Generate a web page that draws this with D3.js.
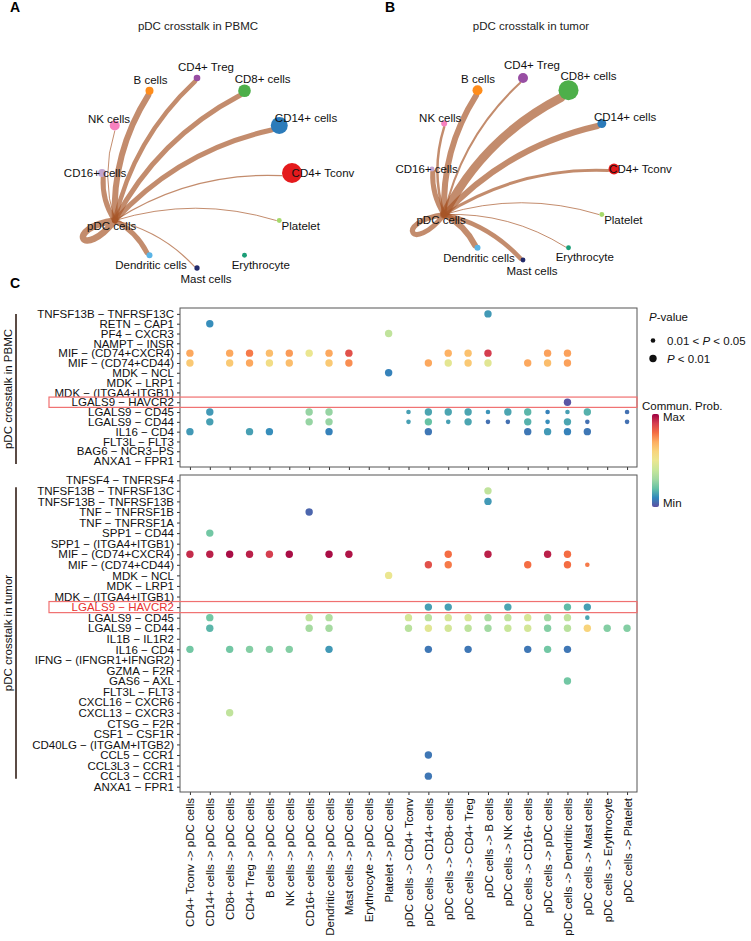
<!DOCTYPE html>
<html><head><meta charset="utf-8">
<script src="https://cdn.jsdelivr.net/npm/d3@7"></script>
<style>body{margin:0;background:#fff}svg{font-family:"Liberation Sans",Arial,sans-serif}</style>
</head><body><svg id="c" width="751" height="941"></svg>
<script>
// ---------------- DATA ----------------
const netNodes = ["CD4+ Tconv","Platelet","Erythrocyte","Mast cells","Dendritic cells","pDC cells","CD16+ cells","NK cells","B cells","CD4+ Treg","CD8+ cells","CD14+ cells"];
const netColors = ["#e41a1c","#a6d96a","#1b9e77","#222a6b","#5ab4e6","#a65628","#c2a5cf","#f781bf","#ff8c1a","#984ea3","#4daf4a","#2b7bba"];
const nodeSizePBMC  = [100,6,6,7,9,4,16,25,16,11,40,72];
const nodeSizeTumor = [30,6,6,6,9,4,6,9,25,25,100,20];
const edgeWidthPBMC  = [1.2,1,0,1.2,5,6.5,5,1,6,4.5,5,5];
const edgeWidthTumor = [3,1,1,4.5,6,5,5,2.5,6,2,8.5,6];

const columns = ["CD4+ Tconv -> pDC cells","CD14+ cells -> pDC cells","CD8+ cells -> pDC cells","CD4+ Treg -> pDC cells","B cells -> pDC cells","NK cells -> pDC cells","CD16+ cells -> pDC cells","Dendritic cells -> pDC cells","Mast cells -> pDC cells","Erythrocyte -> pDC cells","Platelet -> pDC cells","pDC cells -> CD4+ Tconv","pDC cells -> CD14+ cells","pDC cells -> CD8+ cells","pDC cells -> CD4+ Treg","pDC cells -> B cells","pDC cells -> NK cells","pDC cells -> CD16+ cells","pDC cells -> pDC cells","pDC cells -> Dendritic cells","pDC cells -> Mast cells","pDC cells -> Erythrocyte","pDC cells -> Platelet"];

const pairsPBMC = ["TNFSF13B − TNFRSF13C","RETN − CAP1","PF4 − CXCR3","NAMPT − INSR","MIF − (CD74+CXCR4)","MIF − (CD74+CD44)","MDK − NCL","MDK − LRP1","MDK − (ITGA4+ITGB1)","LGALS9 − HAVCR2","LGALS9 − CD45","LGALS9 − CD44","IL16 − CD4","FLT3L − FLT3","BAG6 − NCR3−PS","ANXA1 − FPR1"];
const pairsTumor = ["TNFSF4 − TNFRSF4","TNFSF13B − TNFRSF13C","TNFSF13B − TNFRSF13B","TNF − TNFRSF1B","TNF − TNFRSF1A","SPP1 − CD44","SPP1 − (ITGA4+ITGB1)","MIF − (CD74+CXCR4)","MIF − (CD74+CD44)","MDK − NCL","MDK − LRP1","MDK − (ITGA4+ITGB1)","LGALS9 − HAVCR2","LGALS9 − CD45","LGALS9 − CD44","IL1B − IL1R2","IL16 − CD4","IFNG − (IFNGR1+IFNGR2)","GZMA − F2R","GAS6 − AXL","FLT3L − FLT3","CXCL16 − CXCR6","CXCL13 − CXCR3","CTSG − F2R","CSF1 − CSF1R","CD40LG − (ITGAM+ITGB2)","CCL5 − CCR1","CCL3L3 − CCR1","CCL3 − CCR1","ANXA1 − FPR1"];

// [pair, column number (1-based), commun. prob (0=min,1=max), p class (1: 0.01<P<0.05, 2: P<0.01)]
const dotsPBMC = [
 ["TNFSF13B − TNFRSF13C",16,0.13,2],
 ["RETN − CAP1",2,0.11,2],
 ["PF4 − CXCR3",11,0.38,2],
 ["MIF − (CD74+CXCR4)",1,0.71,2],["MIF − (CD74+CXCR4)",3,0.71,2],["MIF − (CD74+CXCR4)",4,0.78,2],["MIF − (CD74+CXCR4)",5,0.66,2],["MIF − (CD74+CXCR4)",6,0.73,2],["MIF − (CD74+CXCR4)",7,0.5,2],["MIF − (CD74+CXCR4)",8,0.71,2],["MIF − (CD74+CXCR4)",9,0.86,2],["MIF − (CD74+CXCR4)",14,0.69,2],["MIF − (CD74+CXCR4)",15,0.65,2],["MIF − (CD74+CXCR4)",16,0.9,2],["MIF − (CD74+CXCR4)",19,0.72,2],["MIF − (CD74+CXCR4)",20,0.72,2],
 ["MIF − (CD74+CD44)",1,0.63,2],["MIF − (CD74+CD44)",3,0.63,2],["MIF − (CD74+CD44)",4,0.71,2],["MIF − (CD74+CD44)",5,0.55,2],["MIF − (CD74+CD44)",6,0.66,2],["MIF − (CD74+CD44)",8,0.63,2],["MIF − (CD74+CD44)",9,0.75,2],["MIF − (CD74+CD44)",13,0.71,2],["MIF − (CD74+CD44)",14,0.48,2],["MIF − (CD74+CD44)",15,0.63,2],["MIF − (CD74+CD44)",16,0.47,2],["MIF − (CD74+CD44)",18,0.71,2],["MIF − (CD74+CD44)",19,0.66,2],["MIF − (CD74+CD44)",20,0.72,2],
 ["MDK − NCL",11,0.09,2],
 ["LGALS9 − HAVCR2",20,0.01,2],
 ["LGALS9 − CD45",2,0.13,2],["LGALS9 − CD45",7,0.28,2],["LGALS9 − CD45",8,0.28,2],["LGALS9 − CD45",12,0.14,1],["LGALS9 − CD45",13,0.15,2],["LGALS9 − CD45",14,0.15,2],["LGALS9 − CD45",15,0.15,2],["LGALS9 − CD45",16,0.12,1],["LGALS9 − CD45",17,0.15,2],["LGALS9 − CD45",18,0.18,2],["LGALS9 − CD45",19,0.09,1],["LGALS9 − CD45",20,0.14,1],["LGALS9 − CD45",21,0.17,2],["LGALS9 − CD45",23,0.06,1],
 ["LGALS9 − CD44",2,0.14,2],["LGALS9 − CD44",7,0.28,2],["LGALS9 − CD44",8,0.28,2],["LGALS9 − CD44",12,0.14,1],["LGALS9 − CD44",13,0.2,2],["LGALS9 − CD44",14,0.14,1],["LGALS9 − CD44",15,0.15,2],["LGALS9 − CD44",16,0.06,1],["LGALS9 − CD44",17,0.06,1],["LGALS9 − CD44",18,0.17,2],["LGALS9 − CD44",19,0.11,1],["LGALS9 − CD44",20,0.15,2],["LGALS9 − CD44",21,0.06,1],["LGALS9 − CD44",23,0.06,1],
 ["IL16 − CD4",1,0.13,2],["IL16 − CD4",4,0.14,2],["IL16 − CD4",5,0.11,2],["IL16 − CD4",8,0.09,2],["IL16 − CD4",13,0.07,2],["IL16 − CD4",18,0.07,2],["IL16 − CD4",19,0.13,2],["IL16 − CD4",20,0.09,2],["IL16 − CD4",21,0.07,2]
];
const dotsTumor = [
 ["TNFSF13B − TNFRSF13C",16,0.38,2],
 ["TNFSF13B − TNFRSF13B",16,0.13,2],
 ["TNF − TNFRSF1B",7,0.04,2],
 ["SPP1 − CD44",2,0.22,2],
 ["MIF − (CD74+CXCR4)",1,0.93,2],["MIF − (CD74+CXCR4)",2,0.95,2],["MIF − (CD74+CXCR4)",3,0.98,2],["MIF − (CD74+CXCR4)",4,0.95,2],["MIF − (CD74+CXCR4)",5,0.9,2],["MIF − (CD74+CXCR4)",6,0.98,2],["MIF − (CD74+CXCR4)",8,0.98,2],["MIF − (CD74+CXCR4)",9,0.97,2],["MIF − (CD74+CXCR4)",14,0.8,2],["MIF − (CD74+CXCR4)",16,0.95,2],["MIF − (CD74+CXCR4)",19,0.95,2],["MIF − (CD74+CXCR4)",20,0.8,2],
 ["MIF − (CD74+CD44)",13,0.86,2],["MIF − (CD74+CD44)",14,0.78,2],["MIF − (CD74+CD44)",18,0.8,2],["MIF − (CD74+CD44)",20,0.8,2],["MIF − (CD74+CD44)",21,0.78,1],
 ["MDK − NCL",11,0.5,2],
 ["LGALS9 − HAVCR2",13,0.14,2],["LGALS9 − HAVCR2",14,0.14,2],["LGALS9 − HAVCR2",17,0.15,2],["LGALS9 − HAVCR2",20,0.19,2],["LGALS9 − HAVCR2",21,0.14,2],
 ["LGALS9 − CD45",2,0.22,2],["LGALS9 − CD45",7,0.38,2],["LGALS9 − CD45",8,0.34,2],["LGALS9 − CD45",12,0.43,2],["LGALS9 − CD45",13,0.36,2],["LGALS9 − CD45",14,0.44,2],["LGALS9 − CD45",15,0.45,2],["LGALS9 − CD45",16,0.32,2],["LGALS9 − CD45",17,0.38,2],["LGALS9 − CD45",18,0.44,2],["LGALS9 − CD45",19,0.3,2],["LGALS9 − CD45",20,0.38,2],["LGALS9 − CD45",21,0.15,1],
 ["LGALS9 − CD44",2,0.18,2],["LGALS9 − CD44",7,0.31,2],["LGALS9 − CD44",8,0.31,2],["LGALS9 − CD44",12,0.36,2],["LGALS9 − CD44",13,0.47,2],["LGALS9 − CD44",14,0.43,2],["LGALS9 − CD44",15,0.37,2],["LGALS9 − CD44",16,0.3,2],["LGALS9 − CD44",17,0.4,2],["LGALS9 − CD44",18,0.43,2],["LGALS9 − CD44",19,0.25,2],["LGALS9 − CD44",20,0.36,2],["LGALS9 − CD44",21,0.6,2],["LGALS9 − CD44",22,0.25,2],["LGALS9 − CD44",23,0.25,2],
 ["IL16 − CD4",1,0.22,2],["IL16 − CD4",3,0.22,2],["IL16 − CD4",4,0.25,2],["IL16 − CD4",5,0.25,2],["IL16 − CD4",6,0.25,2],["IL16 − CD4",8,0.13,2],["IL16 − CD4",13,0.07,2],["IL16 − CD4",15,0.07,2],["IL16 − CD4",18,0.07,2],["IL16 − CD4",19,0.22,2],["IL16 − CD4",20,0.07,2],
 ["GAS6 − AXL",20,0.22,2],
 ["CXCL13 − CXCR3",3,0.38,2],
 ["CCL5 − CCR1",13,0.07,2],
 ["CCL3 − CCR1",13,0.07,2]
];
const highlightPair = "LGALS9 − HAVCR2";
const spectralStops = ["#9e0142","#d53e4f","#f46d43","#fdae61","#f8d47c","#ebe690","#c8e69a","#a2d9a2","#66c2a5","#3288bd","#5e4fa2"];

// ---------------- DRAW ----------------
const svg = d3.select("#c");
const FS = 11.5;
const color = d3.scaleLinear().domain(d3.range(11).map(i => 1 - i/10)).range(spectralStops).interpolate(d3.interpolateRgb);

// panel letters
[["A",10,12],["B",385,12],["C",10,288]].forEach(([t,x,y]) =>
  svg.append("text").attr("x",x).attr("y",y).attr("font-size",14).attr("font-weight","bold").text(t));

// ---- network panels ----
const rScale = d3.scaleSqrt().domain([0,100]).range([0,10]);
const edgeCol = "#a65628";
function network(cx, cy, R, title, titleX, sizes, widths) {
  const g = svg.append("g");
  g.append("text").attr("x",titleX).attr("y",30).attr("text-anchor","middle").attr("font-size",FS).attr("fill","#222").text(title);
  const nodes = netNodes.map((n,i) => {
    const a = i * Math.PI / 6;
    return {name:n, a, x: cx + R*Math.cos(a), y: cy + R*Math.sin(a), r: rScale(sizes[i]), c: netColors[i], w: widths[i]};
  });
  const src = nodes[netNodes.indexOf("pDC cells")];
  const eg = g.append("g").attr("fill","none").attr("stroke",edgeCol).attr("stroke-opacity",0.68).attr("stroke-linecap","round");
  nodes.forEach(n => {
    if (n.w <= 0) return;
    if (n === src) {
      const L = 52, a1 = n.a - 0.38, a2 = n.a + 0.38;
      const p = d3.path();
      p.moveTo(n.x, n.y);
      p.bezierCurveTo(n.x + L*Math.cos(a1), n.y + L*Math.sin(a1), n.x + L*Math.cos(a2), n.y + L*Math.sin(a2), n.x, n.y);
      eg.append("path").attr("d", p.toString()).attr("stroke-width", n.w);
      return;
    }
    const dx = n.x - src.x, dy = n.y - src.y, len = Math.hypot(dx,dy);
    const ex = n.x - dx/len*(n.r+0.5), ey = n.y - dy/len*(n.r+0.5);
    const k = 0.15*len;
    const qx = (src.x+ex)/2 + dy/len*k, qy = (src.y+ey)/2 - dx/len*k;
    const p = d3.path();
    p.moveTo(src.x, src.y);
    p.quadraticCurveTo(qx, qy, ex, ey);
    eg.append("path").attr("d", p.toString()).attr("stroke-width", n.w);
  });
  g.selectAll("circle.node").data(nodes.filter(n => n !== src)).join("circle").attr("class","node")
    .attr("cx", d=>d.x).attr("cy", d=>d.y).attr("r", d=>d.r).attr("fill", d=>d.c);
  g.selectAll("text.lab").data(nodes).join("text").attr("class","lab")
    .attr("x", d => d.x + 9 + Math.cos(d.a)*(12 + d.r))
    .attr("y", d => d.y + Math.sin(d.a)*(11 + d.r)*0.8)
    .attr("dy","0.35em").attr("text-anchor","middle").attr("font-size",FS).attr("fill","#111")
    .text(d => d.name);
}
network(197, 173, 95, "pDC crosstalk in PBMC", 198, nodeSizePBMC, edgeWidthPBMC);
network(523, 169, 91, "pDC crosstalk in tumor", 531, nodeSizeTumor, edgeWidthTumor);

// ---- dot plots ----
const X0 = 180, X1 = 637;
const x = d3.scalePoint().domain(columns).range([X0, X1]).padding(0.5);
const sizeR = d3.scaleOrdinal().domain([1,2]).range([2.3,3.7]);

function dotPanel(pairs, dots, y0, y1, pad, showX, groupLabel) {
  const g = svg.append("g");
  const y = d3.scalePoint().domain(pairs).range([y0, y1]).padding(pad);
  const hy = y(highlightPair);
  const hh = y.step()*1.05;
  const ya = g.append("g").attr("transform",`translate(${X0},0)`)
    .call(d3.axisLeft(y).tickSize(3).tickPadding(3));
  ya.select(".domain").remove();
  ya.selectAll(".tick line").attr("stroke","#333");
  ya.selectAll(".tick text").attr("font-size",FS).attr("font-family","Liberation Sans, Arial, sans-serif").attr("fill","#111");
  const xa = g.append("g").attr("transform",`translate(0,${y1})`)
    .call(d3.axisBottom(x).tickSize(3).tickPadding(3));
  xa.select(".domain").remove();
  xa.selectAll(".tick line").attr("stroke","#333");
  if (showX) {
    xa.selectAll(".tick text").attr("font-size",FS).attr("font-family","Liberation Sans, Arial, sans-serif").attr("fill","#111")
      .attr("transform","rotate(-90)").attr("text-anchor","end").attr("x",-6).attr("y",0).attr("dy","0.35em");
  } else {
    xa.selectAll(".tick text").remove();
  }
  g.append("rect").attr("x",X0).attr("y",y0).attr("width",X1-X0).attr("height",y1-y0)
    .attr("fill","none").attr("stroke","#555").attr("stroke-width",1);
  g.append("g").selectAll("circle").data(dots).join("circle")
    .attr("cx", d => x(columns[d[1]-1])).attr("cy", d => y(d[0]))
    .attr("r", d => sizeR(d[3])).attr("fill", d => color(d[2]));
  g.append("rect").attr("x",49).attr("y",hy - hh/2).attr("width",X1-49).attr("height",hh)
    .attr("fill","none").attr("stroke","#f07070").attr("stroke-width",1.2);
  const by0 = y(pairs[0]) + (groupLabel.off0||0), by1 = y(pairs[pairs.length-1]) + (groupLabel.off1||0);
  g.append("line").attr("x1",16).attr("x2",16).attr("y1",by0).attr("y2",by1).attr("stroke","#5b4b45").attr("stroke-width",2);
  g.append("text").attr("transform",`translate(11.5,${(by0+by1)/2}) rotate(-90)`).attr("text-anchor","middle")
    .attr("font-size",FS).attr("fill","#111").text(groupLabel.text);
  return ya;
}
dotPanel(pairsPBMC, dotsPBMC, 308, 467, 0.6, false, {text:"pDC crosstalk in PBMC", off0:0, off1:3});
const yaT = dotPanel(pairsTumor, dotsTumor, 475, 792, 0.5, true, {text:"pDC crosstalk in tumor", off0:7, off1:-8});
yaT.selectAll(".tick text").filter(d => d === highlightPair).attr("fill","#e8312f");

// ---- legends ----
const lg = svg.append("g").attr("font-size",FS).attr("fill","#111");
const pv = lg.append("text").attr("x",649).attr("y",321);
pv.append("tspan").attr("font-style","italic").text("P");
pv.append("tspan").text("-value");
lg.append("circle").attr("cx",653).attr("cy",340.5).attr("r",sizeR(1)).attr("fill","#111");
lg.append("circle").attr("cx",653).attr("cy",358.5).attr("r",sizeR(2)).attr("fill","#111");
const t1 = lg.append("text").attr("x",667).attr("y",344.5);
t1.append("tspan").text("0.01 < ");
t1.append("tspan").attr("font-style","italic").text("P");
t1.append("tspan").text(" < 0.05");
const t2 = lg.append("text").attr("x",667).attr("y",362.5);
t2.append("tspan").attr("font-style","italic").text("P");
t2.append("tspan").text(" < 0.01");
lg.append("text").attr("x",642).attr("y",410).text("Commun. Prob.");
const defs = svg.append("defs");
const grad = defs.append("linearGradient").attr("id","cb").attr("x1",0).attr("x2",0).attr("y1",0).attr("y2",1);
spectralStops.forEach((c,i) => grad.append("stop").attr("offset", i/10).attr("stop-color", c));
lg.append("rect").attr("x",652).attr("y",414).attr("width",7).attr("height",93).attr("rx",2).attr("fill","url(#cb)");
lg.append("text").attr("x",663).attr("y",421).text("Max");
lg.append("text").attr("x",663).attr("y",507).text("Min");
</script></body></html>
